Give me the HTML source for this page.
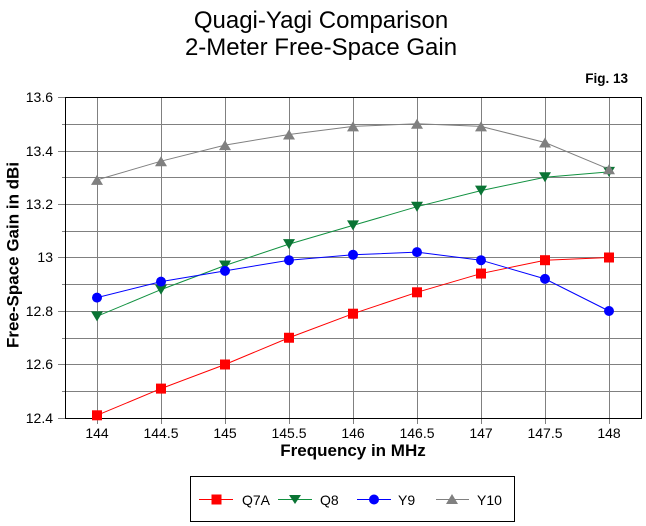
<!DOCTYPE html>
<html>
<head>
<meta charset="utf-8">
<style>
html,body{margin:0;padding:0;background:#fff;}
svg{display:block;}
text{font-family:"Liberation Sans",Arial,sans-serif;fill:#000;}
</style>
</head>
<body>
<svg width="646" height="526" viewBox="0 0 646 526" xmlns="http://www.w3.org/2000/svg">
<rect x="0" y="0" width="646" height="526" fill="#fff"/>
<!-- Title -->
<text x="321" y="28" font-size="24" text-anchor="middle">Quagi-Yagi Comparison</text>
<text x="321" y="55" font-size="24" text-anchor="middle">2-Meter Free-Space Gain</text>
<text x="628" y="83" font-size="13.5" font-weight="bold" text-anchor="end">Fig. 13</text>

<!-- Grid -->
<g stroke="#808080" stroke-width="1" shape-rendering="crispEdges">
  <!-- horizontal major (0.2) with ticks -->
  <line x1="58" y1="97.5" x2="641" y2="97.5"/>
  <line x1="58" y1="151.5" x2="641" y2="151.5"/>
  <line x1="58" y1="204.5" x2="641" y2="204.5"/>
  <line x1="58" y1="257.5" x2="641" y2="257.5"/>
  <line x1="58" y1="311.5" x2="641" y2="311.5"/>
  <line x1="58" y1="364.5" x2="641" y2="364.5"/>
  <line x1="58" y1="418.5" x2="65" y2="418.5"/>
  <!-- minor -->
  <line x1="62" y1="124.5" x2="641" y2="124.5"/>
  <line x1="62" y1="177.5" x2="641" y2="177.5"/>
  <line x1="62" y1="231.5" x2="641" y2="231.5"/>
  <line x1="62" y1="284.5" x2="641" y2="284.5"/>
  <line x1="62" y1="338.5" x2="641" y2="338.5"/>
  <line x1="62" y1="391.5" x2="641" y2="391.5"/>
  <!-- vertical -->
  <line x1="97.5" y1="97" x2="97.5" y2="424"/>
  <line x1="161.5" y1="97" x2="161.5" y2="424"/>
  <line x1="225.5" y1="97" x2="225.5" y2="424"/>
  <line x1="289.5" y1="97" x2="289.5" y2="424"/>
  <line x1="353.5" y1="97" x2="353.5" y2="424"/>
  <line x1="417.5" y1="97" x2="417.5" y2="424"/>
  <line x1="481.5" y1="97" x2="481.5" y2="424"/>
  <line x1="545.5" y1="97" x2="545.5" y2="424"/>
  <line x1="609.5" y1="97" x2="609.5" y2="424"/>
</g>
<!-- Frame -->
<rect x="65.5" y="97.5" width="576" height="321" fill="none" stroke="#000" stroke-width="1" shape-rendering="crispEdges"/>

<!-- Y tick labels -->
<g font-size="14" text-anchor="end">
  <text x="53" y="102">13.6</text>
  <text x="53" y="156">13.4</text>
  <text x="53" y="209">13.2</text>
  <text x="53" y="262">13</text>
  <text x="53" y="316">12.8</text>
  <text x="53" y="369">12.6</text>
  <text x="53" y="423">12.4</text>
</g>
<!-- X tick labels -->
<g font-size="14" text-anchor="middle">
  <text x="97" y="438">144</text>
  <text x="161" y="438">144.5</text>
  <text x="225" y="438">145</text>
  <text x="289" y="438">145.5</text>
  <text x="353" y="438">146</text>
  <text x="417" y="438">146.5</text>
  <text x="481" y="438">147</text>
  <text x="545" y="438">147.5</text>
  <text x="609" y="438">148</text>
</g>
<!-- Axis titles -->
<text x="353" y="456" font-size="17" font-weight="bold" text-anchor="middle">Frequency in MHz</text>
<text transform="translate(18.5,255) rotate(-90)" font-size="17" font-weight="bold" text-anchor="middle">Free-Space Gain in dBi</text>

<!-- Q7A -->
<polyline fill="none" stroke="#ff0000" stroke-width="1" points="97,415.3 161,388.6 225,364.5 289,337.75 353,313.7 417,292.3 481,273.55 545,260.2 609,257.5"/>
<g fill="#ff0000">
  <rect x="92" y="410.3" width="10" height="10"/>
  <rect x="156" y="383.6" width="10" height="10"/>
  <rect x="220" y="359.5" width="10" height="10"/>
  <rect x="284" y="332.75" width="10" height="10"/>
  <rect x="348" y="308.7" width="10" height="10"/>
  <rect x="412" y="287.3" width="10" height="10"/>
  <rect x="476" y="268.55" width="10" height="10"/>
  <rect x="540" y="255.2" width="10" height="10"/>
  <rect x="604" y="252.5" width="10" height="10"/>
</g>

<!-- Q8 -->
<polyline fill="none" stroke="#119140" stroke-width="1" points="97,316.35 161,289.6 225,265.5 289,244.1 353,225.4 417,206.7 481,190.6 545,177.25 609,171.9"/>
<g fill="#0a7434">
  <polygon points="91,311.35 103,311.35 97,321.35"/>
  <polygon points="155,284.6 167,284.6 161,294.6"/>
  <polygon points="219,260.5 231,260.5 225,270.5"/>
  <polygon points="283,239.1 295,239.1 289,249.1"/>
  <polygon points="347,220.4 359,220.4 353,230.4"/>
  <polygon points="411,201.7 423,201.7 417,211.7"/>
  <polygon points="475,185.6 487,185.6 481,195.6"/>
  <polygon points="539,172.25 551,172.25 545,182.25"/>
  <polygon points="603,166.9 615,166.9 609,176.9"/>
</g>

<!-- Y9 -->
<polyline fill="none" stroke="#0000ff" stroke-width="1" points="97,297.6 161,281.6 225,270.9 289,260.2 353,254.8 417,252.15 481,260.2 545,278.9 609,311"/>
<g fill="#0000ff">
  <circle cx="97" cy="297.6" r="5"/>
  <circle cx="161" cy="281.6" r="5"/>
  <circle cx="225" cy="270.9" r="5"/>
  <circle cx="289" cy="260.2" r="5"/>
  <circle cx="353" cy="254.8" r="5"/>
  <circle cx="417" cy="252.15" r="5"/>
  <circle cx="481" cy="260.2" r="5"/>
  <circle cx="545" cy="278.9" r="5"/>
  <circle cx="609" cy="311" r="5"/>
</g>

<!-- Y10 -->
<polyline fill="none" stroke="#808080" stroke-width="1" points="97,179.9 161,161.2 225,145.15 289,134.45 353,126.4 417,123.75 481,126.4 545,142.5 609,169.2"/>
<g fill="#808080">
  <polygon points="91,184.9 103,184.9 97,174.9"/>
  <polygon points="155,166.2 167,166.2 161,156.2"/>
  <polygon points="219,150.15 231,150.15 225,140.15"/>
  <polygon points="283,139.45 295,139.45 289,129.45"/>
  <polygon points="347,131.4 359,131.4 353,121.4"/>
  <polygon points="411,128.75 423,128.75 417,118.75"/>
  <polygon points="475,131.4 487,131.4 481,121.4"/>
  <polygon points="539,147.5 551,147.5 545,137.5"/>
  <polygon points="603,174.2 615,174.2 609,164.2"/>
</g>

<!-- Legend -->
<rect x="190.5" y="476.5" width="324" height="45" fill="#fff" stroke="#000" stroke-width="1" shape-rendering="crispEdges"/>
<g font-size="14">
  <line x1="199" y1="499.5" x2="233" y2="499.5" stroke="#ff0000" stroke-width="1"/>
  <rect x="211.5" y="494.5" width="10" height="10" fill="#ff0000"/>
  <text x="242" y="505">Q7A</text>

  <line x1="278" y1="499.5" x2="312" y2="499.5" stroke="#119140" stroke-width="1"/>
  <polygon points="289,495 301,495 295,504" fill="#0a7434"/>
  <text x="320" y="505">Q8</text>

  <line x1="357" y1="499.5" x2="391" y2="499.5" stroke="#0000ff" stroke-width="1"/>
  <circle cx="374" cy="499.5" r="5" fill="#0000ff"/>
  <text x="398" y="505">Y9</text>

  <line x1="436" y1="499.5" x2="469" y2="499.5" stroke="#808080" stroke-width="1"/>
  <polygon points="446,504 458,504 452,494" fill="#808080"/>
  <text x="477" y="505">Y10</text>
</g>
</svg>
</body>
</html>
